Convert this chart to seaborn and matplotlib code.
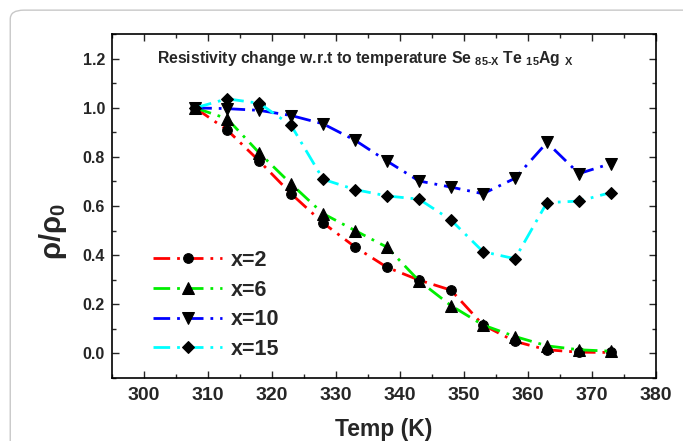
import numpy as np
import pandas as pd
import matplotlib
matplotlib.use("Agg")
import matplotlib.pyplot as plt
import seaborn as sns
from matplotlib.patches import FancyBboxPatch
from matplotlib.ticker import MultipleLocator

# temperature points (K)
temp = [308, 313, 318, 323, 328, 333, 338, 343, 348, 353, 358, 363, 368, 373]

# normalised resistivity rho/rho0 for each Ag content
rho_x2 = [1.0, 0.91, 0.784, 0.65, 0.531, 0.433, 0.35, 0.298, 0.257, 0.115, 0.048, 0.014, 0.004, 0.003]
rho_x6 = [1.0, 0.956, 0.817, 0.69, 0.569, 0.50, 0.432, 0.295, 0.194, 0.115, 0.068, 0.030, 0.014, 0.008]
rho_x10 = [1.0, 0.997, 0.99, 0.969, 0.935, 0.868, 0.783, 0.702, 0.677, 0.65, 0.713, 0.859, 0.732, 0.773]
rho_x15 = [1.0, 1.037, 1.019, 0.929, 0.709, 0.667, 0.641, 0.628, 0.543, 0.414, 0.385, 0.614, 0.62, 0.655]

labels = ["x=2", "x=6", "x=10", "x=15"]
series = [rho_x2, rho_x6, rho_x10, rho_x15]
colors = ["#ff0000", "#00ee00", "#0000ff", "#00ffff"]
markers = ["o", "^", "v", "D"]
msizes = [7, 8, 8, 6.5]

sns.set_style("white")
plt.rcParams["font.family"] = ["Liberation Sans", "DejaVu Sans"]
plt.rcParams["mathtext.fontset"] = "custom"
plt.rcParams["mathtext.rm"] = "Liberation Sans:bold"
plt.rcParams["mathtext.it"] = "Liberation Sans:bold"
plt.rcParams["mathtext.bf"] = "Liberation Sans:bold"

fig = plt.figure(figsize=(6.83, 4.41), dpi=100)
# rounded page frame (only top and left edges visible)
fig.patches.append(FancyBboxPatch((0.015, -1.0), 1.5, 1.977,
                                  boxstyle="round,pad=0,rounding_size=0.02",
                                  transform=fig.transFigure, fill=False,
                                  edgecolor="#c8c8c8", linewidth=1.0))
ax = fig.add_axes([0.164, 0.1435, 0.796, 0.7787])

handles = []
for lab, y, c, m, ms in zip(labels, series, colors, markers, msizes):
    df = pd.DataFrame({"T": temp, "rho": y})
    sns.lineplot(data=df, x="T", y="rho", ax=ax, color=c, lw=2,
                 marker=m, markersize=ms, mfc="black", mec="black",
                 label=lab, sort=False)
    ln = ax.lines[-1]
    ln.set_dashes([6, 2.5, 1, 2.5])
    handles.append(ln)

ax.set_xlim(295, 380)
ax.set_ylim(-0.1, 1.3)
ax.xaxis.set_major_locator(MultipleLocator(10))
ax.xaxis.set_minor_locator(MultipleLocator(5))
ax.yaxis.set_minor_locator(MultipleLocator(0.1))
ax.set_yticks([0.0, 0.2, 0.4, 0.6, 0.8, 1.0, 1.2])
ax.tick_params(which="both", direction="in", top=True, right=True,
               bottom=True, left=True)
ax.tick_params(which="major", length=5, width=1)
ax.tick_params(which="minor", length=3, width=1)
ax.tick_params(axis="x", labelsize=14, pad=7)
ax.tick_params(axis="y", labelsize=11.5, pad=5)
for lbl in ax.get_xticklabels() + ax.get_yticklabels():
    lbl.set_fontweight("bold")
for s in ax.spines.values():
    s.set_linewidth(1.2)
    s.set_color("black")

ax.set_xlabel("Temp (K)", fontsize=16.5, fontweight="bold", labelpad=10)
ax.set_ylabel(r"$\rho/\rho_0$", fontsize=21)
ax.yaxis.set_label_coords(-0.08, 0.425)

ax.text(0.083, 0.93, r"Resistivity change w.r.t to temperature Se $_{85\text{-}X}$ Te $_{15}$Ag $_X$",
        transform=ax.transAxes, fontsize=11.3, fontweight="bold", va="center")

leg = ax.legend(handles=handles, labels=labels, loc="upper left",
                bbox_to_anchor=(0.048, 0.416), frameon=False, handlelength=3.2,
                prop={"size": 15.5, "weight": "bold"}, labelspacing=0.4,
                handletextpad=0.4, borderaxespad=0.3)

fig.savefig("out.png", dpi=100)
